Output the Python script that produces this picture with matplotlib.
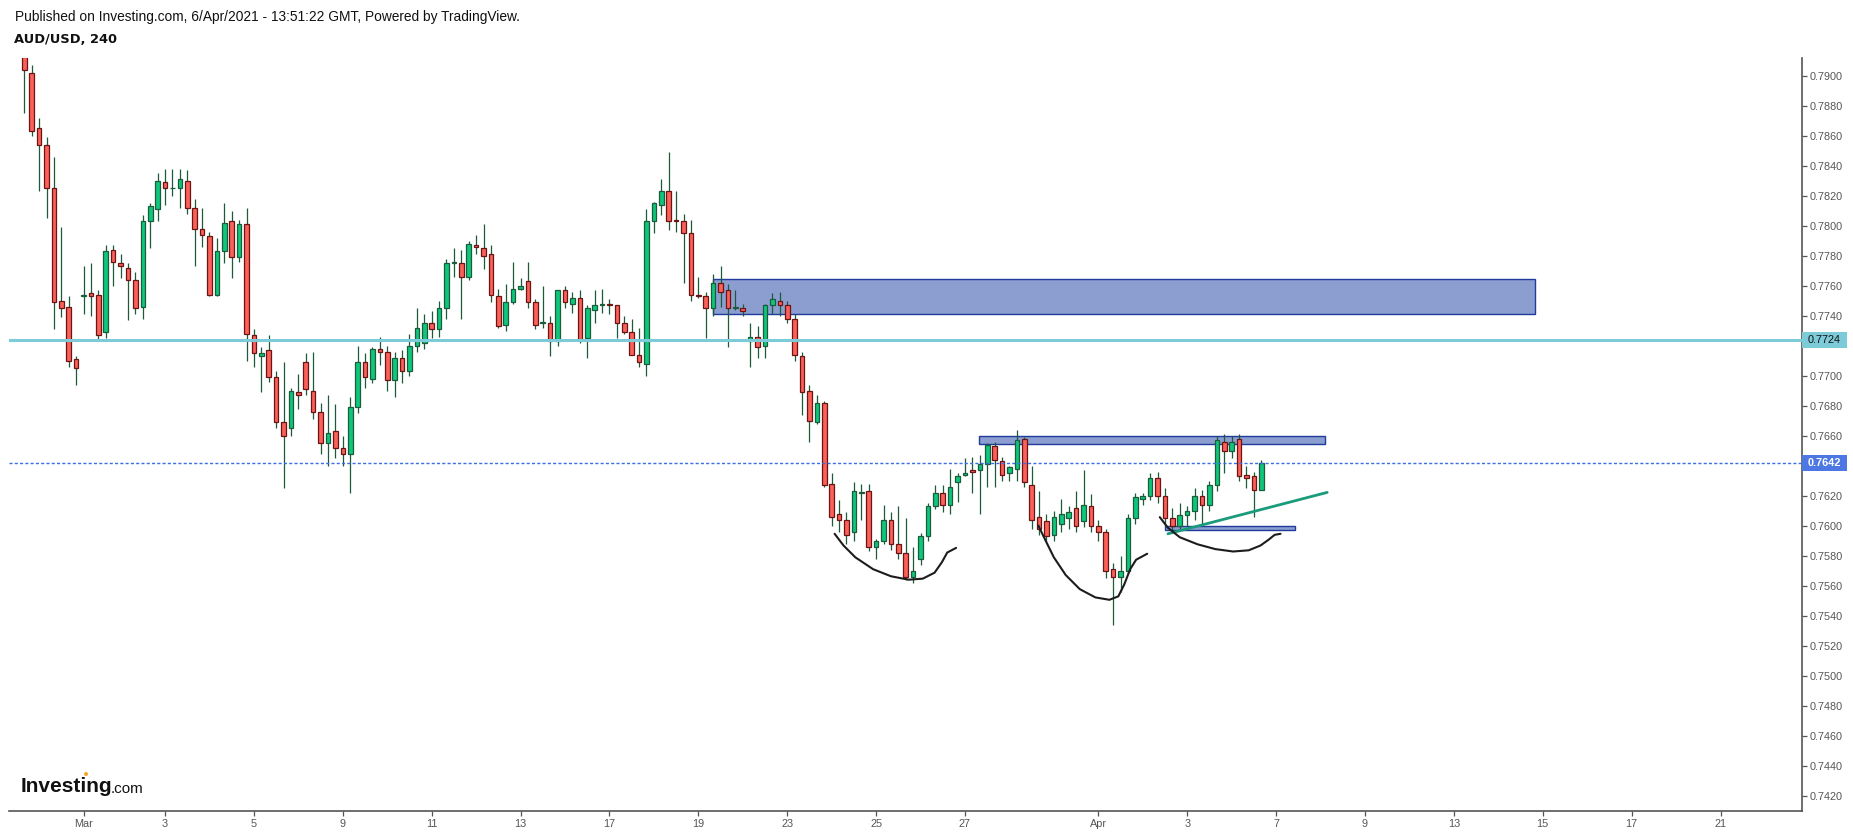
import numpy as np
import matplotlib
matplotlib.use("Agg")
import matplotlib.pyplot as plt
from matplotlib.patches import Rectangle, Ellipse

# ---------------- data (4h candles, index 0..167) ----------------
opens = [0.7916, 0.7902, 0.7865, 0.7854, 0.7825, 0.7750, 0.7746, 0.7711, 0.7753, 0.7755,
         0.7754, 0.7729, 0.7784, 0.7775, 0.7772, 0.7764, 0.7746, 0.7803, 0.7811, 0.7829,
         0.7825, 0.7825, 0.7830, 0.7812, 0.7798, 0.7793, 0.7754, 0.7783, 0.7803, 0.7779,
         0.7801, 0.7727, 0.7713, 0.7717, 0.7699, 0.7669, 0.7665, 0.7689, 0.7709, 0.7690,
         0.7676, 0.7655, 0.7663, 0.7652, 0.7648, 0.7679, 0.7709, 0.7698, 0.7718, 0.7716,
         0.7697, 0.7712, 0.7703, 0.7720, 0.7722, 0.7735, 0.7731, 0.7745, 0.7775, 0.7775,
         0.7766, 0.7787, 0.7785, 0.7781, 0.7753, 0.7734, 0.7749, 0.7758, 0.7763, 0.7749,
         0.7735, 0.7735, 0.7723, 0.7757, 0.7748, 0.7752, 0.7725, 0.7744, 0.7747, 0.7748,
         0.7747, 0.7735, 0.7729, 0.7714, 0.7708, 0.7803, 0.7814, 0.7823, 0.7804, 0.7803,
         0.7795, 0.7754, 0.7753, 0.7745, 0.7762, 0.7757, 0.7745, 0.7745, 0.7723, 0.7726,
         0.7720, 0.7747, 0.7750, 0.7747, 0.7738, 0.7713, 0.7690, 0.7669, 0.7682, 0.7628,
         0.7608, 0.7604, 0.7596, 0.7622, 0.7623, 0.7586, 0.7590, 0.7604, 0.7588, 0.7582,
         0.7566, 0.7578, 0.7593, 0.7613, 0.7622, 0.7614, 0.7629, 0.7634, 0.7637, 0.7637,
         0.7641, 0.7653, 0.7643, 0.7635, 0.7638, 0.7658, 0.7627, 0.7606, 0.7603, 0.7594,
         0.7601, 0.7605, 0.7612, 0.7603, 0.7613, 0.7600, 0.7596, 0.7571, 0.7566, 0.7570,
         0.7605, 0.7618, 0.7620, 0.7632, 0.7620, 0.7605, 0.7600, 0.7607, 0.7610, 0.7620,
         0.7614, 0.7627, 0.7656, 0.7650, 0.7658, 0.7634, 0.7633, 0.7624]
highs = [0.7922, 0.7907, 0.7872, 0.7859, 0.7846, 0.7799, 0.7753, 0.7713, 0.7773, 0.7775,
         0.7757, 0.7787, 0.7787, 0.7781, 0.7775, 0.7769, 0.7807, 0.7815, 0.7835, 0.7838,
         0.7838, 0.7838, 0.7837, 0.7818, 0.7812, 0.7796, 0.7792, 0.7815, 0.7810, 0.7804,
         0.7812, 0.7731, 0.7719, 0.7727, 0.7703, 0.7709, 0.7692, 0.7701, 0.7715, 0.7716,
         0.7682, 0.7687, 0.7681, 0.7660, 0.7686, 0.7720, 0.7715, 0.7719, 0.7726, 0.7720,
         0.7716, 0.7717, 0.7728, 0.7745, 0.7741, 0.7743, 0.7750, 0.7778, 0.7785, 0.7784,
         0.7790, 0.7794, 0.7801, 0.7787, 0.7758, 0.7761, 0.7776, 0.7765, 0.7776, 0.7751,
         0.7760, 0.7740, 0.7757, 0.7760, 0.7756, 0.7757, 0.7747, 0.7757, 0.7758, 0.7751,
         0.7747, 0.7740, 0.7738, 0.7732, 0.7811, 0.7816, 0.7831, 0.7849, 0.7823, 0.7808,
         0.7804, 0.7766, 0.7756, 0.7768, 0.7773, 0.7761, 0.7757, 0.7748, 0.7735, 0.7733,
         0.7748, 0.7755, 0.7756, 0.7750, 0.7741, 0.7716, 0.7694, 0.7687, 0.7683, 0.7635,
         0.7617, 0.7609, 0.7629, 0.7628, 0.7628, 0.7591, 0.7614, 0.7609, 0.7613, 0.7605,
         0.7586, 0.7595, 0.7615, 0.7627, 0.7627, 0.7638, 0.7635, 0.7645, 0.7646, 0.7647,
         0.7655, 0.7656, 0.7646, 0.7640, 0.7664, 0.7659, 0.7640, 0.7623, 0.7608, 0.7610,
         0.7618, 0.7613, 0.7623, 0.7637, 0.7621, 0.7604, 0.7598, 0.7575, 0.7580, 0.7608,
         0.7622, 0.7622, 0.7635, 0.7636, 0.7625, 0.7612, 0.7615, 0.7613, 0.7625, 0.7624,
         0.7630, 0.7660, 0.7661, 0.7660, 0.7661, 0.7640, 0.7636, 0.7644]
lows = [0.7875, 0.7860, 0.7823, 0.7805, 0.7731, 0.7739, 0.7706, 0.7694, 0.7741, 0.7740,
        0.7723, 0.7725, 0.7760, 0.7765, 0.7737, 0.7741, 0.7738, 0.7785, 0.7803, 0.7814,
        0.7820, 0.7812, 0.7808, 0.7773, 0.7786, 0.7753, 0.7753, 0.7775, 0.7765, 0.7776,
        0.7710, 0.7706, 0.7689, 0.7696, 0.7665, 0.7625, 0.7660, 0.7678, 0.7687, 0.7671,
        0.7648, 0.7640, 0.7645, 0.7640, 0.7622, 0.7675, 0.7692, 0.7695, 0.7707, 0.7690,
        0.7686, 0.7695, 0.7700, 0.7716, 0.7718, 0.7725, 0.7726, 0.7738, 0.7766, 0.7738,
        0.7764, 0.7781, 0.7771, 0.7749, 0.7732, 0.7730, 0.7748, 0.7757, 0.7745, 0.7731,
        0.7732, 0.7713, 0.7720, 0.7745, 0.7742, 0.7722, 0.7712, 0.7735, 0.7742, 0.7741,
        0.7725, 0.7728, 0.7714, 0.7706, 0.7700, 0.7795, 0.7807, 0.7797, 0.7796, 0.7762,
        0.7750, 0.7752, 0.7725, 0.7740, 0.7746, 0.7719, 0.7744, 0.7740, 0.7706, 0.7712,
        0.7712, 0.7741, 0.7740, 0.7735, 0.7710, 0.7674, 0.7656, 0.7668, 0.7626, 0.7600,
        0.7596, 0.7588, 0.7590, 0.7604, 0.7583, 0.7578, 0.7588, 0.7584, 0.7578, 0.7564,
        0.7562, 0.7574, 0.7590, 0.7611, 0.7609, 0.7608, 0.7616, 0.7633, 0.7622, 0.7608,
        0.7626, 0.7626, 0.7630, 0.7630, 0.7630, 0.7626, 0.7598, 0.7594, 0.7589, 0.7590,
        0.7596, 0.7598, 0.7596, 0.7599, 0.7596, 0.7590, 0.7565, 0.7534, 0.7556, 0.7568,
        0.7601, 0.7614, 0.7617, 0.7615, 0.7600, 0.7596, 0.7597, 0.7600, 0.7604, 0.7600,
        0.7610, 0.7623, 0.7635, 0.7645, 0.7630, 0.7625, 0.7606, 0.7624]
closes = [0.7904, 0.7863, 0.7854, 0.7825, 0.7749, 0.7745, 0.7710, 0.7705, 0.7754, 0.7753,
          0.7727, 0.7783, 0.7776, 0.7773, 0.7764, 0.7745, 0.7803, 0.7813, 0.7830, 0.7825,
          0.78252, 0.7831, 0.7812, 0.7798, 0.7794, 0.7754, 0.7783, 0.7802, 0.7779, 0.7801,
          0.7728, 0.7715, 0.7715, 0.7699, 0.7669, 0.7660, 0.7690, 0.7687, 0.7691, 0.7676,
          0.7655, 0.7662, 0.7652, 0.7648, 0.7679, 0.7709, 0.7699, 0.7718, 0.7716, 0.7697,
          0.7712, 0.7703, 0.7720, 0.7732, 0.7735, 0.7731, 0.7745, 0.7775, 0.77755, 0.7766,
          0.7788, 0.7786, 0.7780, 0.7754, 0.7733, 0.7749, 0.7758, 0.7760, 0.7749, 0.7734,
          0.7736, 0.7723, 0.7757, 0.7749, 0.7752, 0.7724, 0.7745, 0.7747, 0.7748, 0.7747,
          0.7735, 0.7729, 0.7714, 0.7709, 0.7803, 0.7815, 0.7823, 0.7803, 0.7803, 0.7795,
          0.7754, 0.7753, 0.7745, 0.7762, 0.7756, 0.7745, 0.7746, 0.7743, 0.7726, 0.7719,
          0.7747, 0.7751, 0.7747, 0.7738, 0.7714, 0.7689, 0.7670, 0.7682, 0.7627, 0.7606,
          0.7604, 0.7594, 0.7623, 0.7622, 0.7586, 0.7590, 0.7604, 0.7588, 0.7582, 0.7566,
          0.7570, 0.7593, 0.7613, 0.7622, 0.7614, 0.7626, 0.7633, 0.7635, 0.7636, 0.7641,
          0.7654, 0.7644, 0.7634, 0.7639, 0.7657, 0.7629, 0.7604, 0.7598, 0.7593, 0.7606,
          0.7608, 0.7609, 0.7600, 0.7614, 0.7600, 0.7596, 0.7570, 0.7566, 0.7570, 0.7605,
          0.7619, 0.7620, 0.7632, 0.7620, 0.7605, 0.7600, 0.7607, 0.7610, 0.7620, 0.7614,
          0.7627, 0.7657, 0.7650, 0.7656, 0.7633, 0.7632, 0.7624, 0.7642]

tick_pos = [8, 19, 31, 43, 55, 67, 79, 91, 103, 115, 127, 145, 157, 169, 181, 193, 205, 217, 229]
tick_labels = ['Mar', '3', '5', '9', '11', '13', '17', '19', '23', '25', '27',
               'Apr', '3', '7', '9', '13', '15', '17', '21']
price_ticks = [0.7420 + 0.0020 * k for k in range(25)]

support_level = 0.7724
last_price = 0.7642

# drawings (index, price)
zone_top = (93.0, 204.0, 0.77409, 0.77643)
zone_mid = (128.9, 175.6, 0.76543, 0.76596)
zone_low = (154.0, 171.6, 0.75970, 0.76001)
trend_x = [154.4, 175.9]
trend_y = [0.75946, 0.76222]
cup1_x = [109.4, 110.6, 112.2, 114.6, 117.0, 119.4, 121.3, 122.9, 123.9, 124.6, 125.8]
cup1_y = [0.75946, 0.75868, 0.75789, 0.75710, 0.75663, 0.75640, 0.75647, 0.75687, 0.75758, 0.75821, 0.75852]
cup2_x = [136.9, 137.9, 139.0, 140.6, 142.5, 144.6, 146.5, 147.7, 148.5, 149.3, 150.1, 151.6]
cup2_y = [0.76001, 0.75899, 0.75789, 0.75671, 0.75577, 0.75522, 0.75506, 0.75529, 0.75608, 0.75710, 0.75773, 0.75813]
cup3_x = [153.3, 154.4, 156.0, 158.4, 160.8, 163.2, 165.3, 166.9, 168.0, 168.8, 169.6]
cup3_y = [0.76057, 0.75986, 0.75923, 0.75876, 0.75844, 0.75828, 0.75836, 0.75868, 0.75907, 0.75939, 0.75946]

# ---------------- figure ----------------
W, H = 1853, 835
fig = plt.figure(figsize=(W / 100, H / 100), dpi=100)
fig.patch.set_facecolor('white')
ax_l, ax_r, ax_t, ax_b = 9, 1801.7, 58, 811
ax = fig.add_axes([ax_l / W, 1 - ax_b / H, (ax_r - ax_l) / W, (ax_b - ax_t) / H])
ax_w_px = ax_r - ax_l

o = np.array(opens); h = np.array(highs); lo = np.array(lows); c = np.array(closes)
idx = np.arange(len(o))
up = c >= o

UP_FILL, UP_EDGE = '#0fc77c', '#1b5c3a'
DN_FILL, DN_EDGE = '#fb6158', '#6a1414'
WICK = '#1d5a3a'

# zones (below candles)
for (x0, x1, y0, y1) in (zone_top, zone_mid, zone_low):
    ax.add_patch(Rectangle((x0, y0), x1 - x0, y1 - y0, facecolor='#8b9ecf',
                           edgecolor='#1f3c9c', linewidth=1.0, zorder=1))

ax.vlines(idx, lo, h, color=WICK, linewidth=0.9, zorder=2.6)
body_bottom = np.minimum(o, c)
body_h = np.maximum(np.abs(c - o), 0.00003)
ax.bar(idx[up], body_h[up], bottom=body_bottom[up], width=0.62,
       color=UP_FILL, edgecolor=UP_EDGE, linewidth=0.9, zorder=3)
ax.bar(idx[~up], body_h[~up], bottom=body_bottom[~up], width=0.62,
       color=DN_FILL, edgecolor=DN_EDGE, linewidth=0.9, zorder=3)

# horizontal lines
ax.axhline(support_level, color='#7dcbd8', linewidth=2.2, zorder=4)
ax.axhline(last_price, color='#3b6de3', linewidth=1.0, linestyle=(0, (2.2, 1.6)), zorder=4)

# trend line and cups
ax.plot(trend_x, trend_y, color='#1a9b7b', linewidth=2.0, solid_capstyle='round', zorder=5)
for cx, cy in ((cup1_x, cup1_y), (cup2_x, cup2_y), (cup3_x, cup3_y)):
    ax.plot(cx, cy, color='#1c1c1c', linewidth=1.5, solid_capstyle='round',
            solid_joinstyle='round', zorder=5)

# axes setup
ax.set_xlim((ax_l - 24.3) / 7.407, (ax_r - 24.3) / 7.407)
ax.set_ylim(0.7900 - (ax_b - 75.7) / 15000, 0.7900 + (75.7 - ax_t) / 15000)
for s in ('left', 'top'):
    ax.spines[s].set_visible(False)
for s in ('right', 'bottom'):
    ax.spines[s].set_color('#555555')
    ax.spines[s].set_linewidth(1.2)
ax.yaxis.tick_right()
ax.set_yticks(price_ticks)
# the 0.7720 and 0.7640 labels sit under the price boxes in the reference
hidden = (0.7720, 0.7640)
ax.set_yticklabels(['' if any(abs(v - hv) < 1e-6 for hv in hidden) else '%.4f' % v
                    for v in price_ticks])
ax.set_xticks(tick_pos)
ax.set_xticklabels(tick_labels)
ax.tick_params(axis='both', colors='#555555', labelcolor='#555555', length=3.5,
               width=0.9, labelsize=7.8, pad=2.2)
for lab in ax.get_xticklabels() + ax.get_yticklabels():
    lab.set_family('Liberation Sans')

# price labels on axis
ytr = ax.get_yaxis_transform()
box_w = 45 / ax_w_px
for val, fc, tc, wt in ((support_level, '#7dcbd8', '#111111', 'normal'),
                        (last_price, '#4d78e4', 'white', 'bold')):
    ax.add_patch(Rectangle((1.0, val - 0.00052), box_w, 0.00104, transform=ytr,
                           facecolor=fc, edgecolor='none', clip_on=False, zorder=19))
    ax.text(1.0 + 6 / ax_w_px, val, '%.4f' % val, transform=ytr, ha='left', va='center',
            fontsize=7.8, color=tc, fontweight=wt, family='Liberation Sans',
            clip_on=False, zorder=20)

# header
fig.text(15 / W, 1 - 16.5 / H, 'Published on Investing.com, 6/Apr/2021 - 13:51:22 GMT, Powered by TradingView.',
         fontsize=9.95, family='Liberation Sans', color='#111111', va='center', ha='left')
fig.text(14 / W, 1 - 39.5 / H, 'AUD/USD, 240', fontsize=9.4, family='DejaVu Sans',
         fontweight='bold', color='#111111', va='center', ha='left')

# logo
fig.text(21 / W, 1 - 786 / H, 'Investing', fontsize=15, family='Liberation Sans',
         fontweight='bold', color='#111111', va='center', ha='left')
fig.text(111 / W, 1 - 789 / H, '.com', fontsize=11, family='Liberation Sans',
         color='#111111', va='center', ha='left')
fig.patches.append(Ellipse((86 / W, 1 - 774 / H), 4 / W, 4 / H, transform=fig.transFigure,
                           facecolor='#f5a623', edgecolor='none'))

fig.savefig('out.png', dpi=100, facecolor='white')
